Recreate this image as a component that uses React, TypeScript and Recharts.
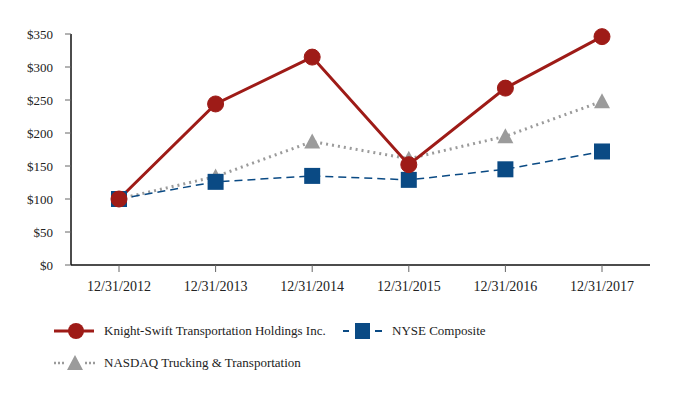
import React from "react";
import { Line, LineChart, XAxis, YAxis } from "recharts";

const dates = ["12/31/2012", "12/31/2013", "12/31/2014", "12/31/2015", "12/31/2016", "12/31/2017"];
const knightSwift = [100, 244, 315, 152, 268, 346];
const nyseComposite = [100, 126, 135, 129, 145, 172];
const nasdaqTrucking = [100, 134, 187, 161, 195, 248];
const yTicks = [0, 50, 100, 150, 200, 250, 300, 350];

const RED = "#9e1b17";
const BLUE = "#0a4a84";
const GRAY = "#9b9b9b";
const FONT = "'Times New Roman', Times, 'Liberation Serif', 'DejaVu Serif', serif";

const data = dates.map((date, i) => ({
  date,
  knight: knightSwift[i],
  nyse: nyseComposite[i],
  nasdaq: nasdaqTrucking[i],
}));

function SquareDot(props: any) {
  const { cx, cy, index } = props;
  if (cx == null || cy == null) return null;
  return <rect key={`sq-${index}`} x={cx - 8} y={cy - 8} width={16} height={16} fill={BLUE} />;
}

function TriangleDot(props: any) {
  const { cx, cy, index } = props;
  if (cx == null || cy == null) return null;
  return <path key={`tri-${index}`} d={`M${cx},${cy - 8} L${cx + 8},${cy + 7} L${cx - 8},${cy + 7} Z`} fill={GRAY} />;
}

function LegendItem({ x, y, icon, label }: { x: number; y: number; icon: React.ReactNode; label: string }) {
  return (
    <div style={{ position: "absolute", left: x, top: y - 10, height: 20, display: "flex", alignItems: "center" }}>
      <svg width={42} height={20} style={{ display: "block" }}>
        {icon}
      </svg>
      <span style={{ marginLeft: 8, fontFamily: FONT, fontSize: 13, color: "#222", whiteSpace: "nowrap" }}>{label}</span>
    </div>
  );
}

export default function App() {
  return (
    <div style={{ position: "absolute", left: 0, top: 0, width: 684, height: 400, background: "#fff", fontFamily: FONT }}>
      <LineChart width={684} height={400} data={data} margin={{ top: 34, right: 34, left: 0, bottom: 105 }}>
        <XAxis
          dataKey="date"
          height={30}
          padding={{ left: 48, right: 48 }}
          axisLine={{ stroke: "#111", strokeWidth: 1.5 }}
          tickLine={{ stroke: "#666" }}
          tickSize={7}
          tickMargin={9}
          tick={{ fontFamily: FONT, fontSize: 14, fill: "#222" }}
        />
        <YAxis
          width={71}
          domain={[0, 350]}
          ticks={yTicks}
          tickFormatter={(v: number) => `$${v}`}
          axisLine={{ stroke: "#111", strokeWidth: 1.5 }}
          tickLine={{ stroke: "#666" }}
          tickSize={6}
          tickMargin={12}
          tick={{ fontFamily: FONT, fontSize: 13, fill: "#222" }}
        />
        <Line
          dataKey="nasdaq"
          stroke={GRAY}
          strokeWidth={3}
          strokeDasharray="2 4"
          dot={TriangleDot}
          activeDot={false}
          isAnimationActive={false}
        />
        <Line
          dataKey="nyse"
          stroke={BLUE}
          strokeWidth={1.5}
          strokeDasharray="8 5"
          dot={SquareDot}
          activeDot={false}
          isAnimationActive={false}
        />
        <Line
          dataKey="knight"
          stroke={RED}
          strokeWidth={3}
          dot={{ r: 8, fill: RED, stroke: RED, strokeWidth: 1 }}
          activeDot={false}
          isAnimationActive={false}
        />
      </LineChart>
      <LegendItem
        x={54}
        y={331}
        label="Knight-Swift Transportation Holdings Inc."
        icon={
          <>
            <line x1={0} y1={10} x2={40} y2={10} stroke={RED} strokeWidth={3} />
            <circle cx={22} cy={10} r={8} fill={RED} />
          </>
        }
      />
      <LegendItem
        x={342}
        y={331}
        label="NYSE Composite"
        icon={
          <>
            <line x1={1} y1={10} x2={7} y2={10} stroke={BLUE} strokeWidth={2} />
            <rect x={13} y={2} width={15} height={16} fill={BLUE} />
            <line x1={33} y1={10} x2={40} y2={10} stroke={BLUE} strokeWidth={2} />
          </>
        }
      />
      <LegendItem
        x={54}
        y={363}
        label="NASDAQ Trucking & Transportation"
        icon={
          <>
            <line x1={0} y1={10} x2={10} y2={10} stroke={GRAY} strokeWidth={2.5} strokeDasharray="2 2" />
            <path d="M21,2 L29,17 L13,17 Z" fill={GRAY} />
            <line x1={31} y1={10} x2={41} y2={10} stroke={GRAY} strokeWidth={2.5} strokeDasharray="2 2" />
          </>
        }
      />
    </div>
  );
}
